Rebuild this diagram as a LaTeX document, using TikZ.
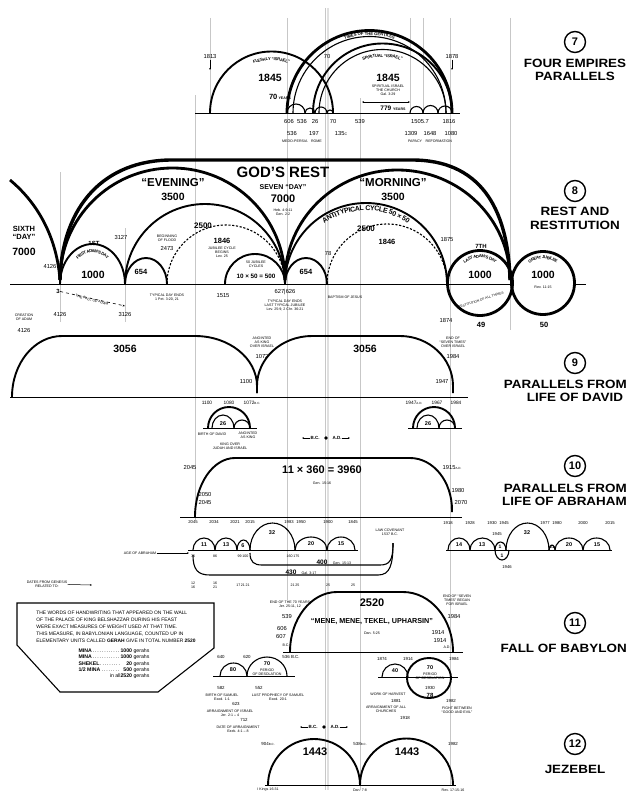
\documentclass[tikz,border=0pt]{standalone}
\usepackage{fontspec}
\setmainfont{Liberation Sans}
\usetikzlibrary{arrows.meta,decorations.text}
\newcommand\txsmall{\fontsize{4.2}{4.5}\selectfont\bfseries}
\newcommand\txmid{\fontsize{7}{7.5}\selectfont\bfseries}
\begin{document}
\begin{tikzpicture}[x=1pt,y=-1pt,
 vl/.style={black!22,line width=0.9pt},
 bl/.style={line width=0.9pt},
 a1/.style={line width=1.1pt},
 a2/.style={line width=1.9pt},
 a3/.style={line width=2.8pt},
 dsh/.style={line width=1.1pt,dash pattern=on 2.2pt off 1.6pt},
 tn/.style={font=\fontsize{3.6}{4}\selectfont,inner sep=0.3pt,align=center},
 sm/.style={font=\fontsize{5.8}{6.2}\selectfont,inner sep=0.3pt,align=center},
 md/.style={font=\bfseries\fontsize{7.5}{8}\selectfont,inner sep=0.3pt,align=center},
 bg/.style={font=\bfseries\fontsize{10.5}{11}\selectfont,inner sep=0.3pt,align=center},
 ttl/.style={font=\bfseries\fontsize{12}{13}\selectfont,inner sep=0pt,xscale=1.12,transform shape},
 circnum/.style={circle,draw,line width=1.4pt,minimum size=21pt,inner sep=0pt,font=\bfseries\fontsize{11}{11}\selectfont},
 tk/.style={line width=0.5pt,-{Stealth[length=2pt,width=1.6pt]}},
 dk/.style={line width=0.5pt,{Stealth[length=2pt,width=1.6pt]}-{Stealth[length=2pt,width=1.6pt]}},
]
\fill[white] (0,0) rectangle (629,792);
\useasboundingbox (0,0) rectangle (629,792);

% ---------- grey guide lines
\draw[vl] (60,172)--(60,322);
\draw[vl] (125,228)--(125,322);
\draw[vl] (195,95)--(195,520);
\draw[vl] (210,18)--(210,113);
\draw[vl] (287,18)--(287,600);
\draw[black!12,line width=2.5pt] (328,8)--(328,790);
\draw[vl] (325,8)--(325,790);
\draw[vl] (360,98)--(360,790);
\draw[vl] (410,18)--(410,113);
\draw[vl] (423,18)--(423,113);
\draw[vl] (450,18)--(450,785);
\draw[vl] (510,18)--(510,330);

% ================= SECTION 7
\draw[bl] (195,113)--(460,113);
\draw[a2] (210,113) arc[start angle=180,end angle=0,radius=61.5pt];
\draw[a3] (287,113) arc[start angle=180,end angle=0,radius=82.5pt];
\draw[a1] (293,113) arc[start angle=180,end angle=0,radius=76.5pt];
\draw[a2] (313,113) arc[start angle=180,end angle=0,radius=69.5pt];
\draw[a1] (319,113) arc[start angle=180,end angle=0,radius=63.5pt];
\path[decorate,decoration={text along path,text align=center,raise=-5pt,text={|\txsmall|FLESHLY “ISRAEL”}}] (214,113) arc[start angle=180,end angle=0,radius=57.5pt];
\path[decorate,decoration={text along path,text align=center,raise=-1.6pt,text={|\txsmall|TIMES OF THE GENTILES}}] (290,113) arc[start angle=180,end angle=0,radius=79.5pt];
\path[decorate,decoration={text along path,text align=center,raise=-4.6pt,text={|\txsmall|SPIRITUAL “ISRAEL”}}] (322,113) arc[start angle=180,end angle=0,radius=60.5pt];
\draw[a1] (287,113) arc[start angle=180,end angle=0,radius=9pt];
\draw[a1] (305,113) arc[start angle=180,end angle=0,radius=5pt];
\draw[a1] (315,113) arc[start angle=180,end angle=0,radius=6pt];
\draw[a1] (327,113) arc[start angle=180,end angle=0,radius=3pt];
\draw[a1] (410,113) arc[start angle=180,end angle=0,radius=6.5pt];
\draw[a1] (423,113) arc[start angle=180,end angle=0,radius=7.5pt];
\draw[a1] (438,113) arc[start angle=180,end angle=0,radius=7pt];
\node[sm] (s7a) at (210,57) {1813};
\node[sm] (s7b) at (327,57) {70};
\node[sm] (s7c) at (452,57) {1878};
\coordinate (s7a1) at (210,70);
\coordinate (s7c1) at (452,70);
\draw[tk] (s7a)--(s7a1);
\draw[tk] (s7c)--(s7c1);
\node[bg] (s7d) at (270,78) {1845};
\node[bg] (s7e) at (388,78) {1845};
\node[md] (s7f) at (280,97) {70\,{\fontsize{3.6}{4}\selectfont YEARS}};
\node[tn] (s7g) at (388,90) {SPIRITUAL ISRAEL\\THE CHURCH\\Gal. 3:29};
\coordinate (s7l) at (362,102);
\coordinate (s7r) at (410,102);
\draw[dk] (s7l)--(s7r);
\node[md,font=\bfseries\fontsize{6.5}{7}\selectfont] (s7h) at (393,108) {779 {\fontsize{3.6}{4}\selectfont YEARS}};
\node[sm] (s7i) at (289,122) {606};
\node[sm] (s7j) at (302,122) {536};
\node[sm] (s7k) at (315,122) {26};
\node[sm] (s7m) at (333,122) {70};
\node[sm] (s7n) at (360,122) {539};
\node[sm] (s7o) at (420,122) {1505.7};
\node[sm] (s7p) at (449,122) {1816};
\node[sm] (s7q) at (292,134) {536};
\node[sm] (s7r2) at (314,134) {197};
\node[sm] (s7s) at (341,134) {135{\fontsize{3.6}{4}\selectfont C}};
\node[sm] (s7t) at (411,134) {1309};
\node[sm] (s7u) at (430,134) {1648};
\node[sm] (s7v) at (451,134) {1080};
\node[tn] (s7w) at (302,141) {MEDO-PERSIA\quad ROME};
\node[tn] (s7x) at (430,141) {PAPACY\quad REFORMATION};

% ================= SECTION 8
\draw[bl] (10,284)--(512,284);
\draw[bl] (575,284)--(586,284);
\draw[a3] (10,180) .. controls (40,205) and (57,240) .. (60,280);
\draw[line width=3.4pt] (60,280) .. controls (62,205) and (105,160) .. (172,160) -- (412,160) .. controls (478,160) and (508,205) .. (510,280);
\draw[a3] (60,280) arc[start angle=180,end angle=0,x radius=112.5pt,y radius=112pt];
\draw[a3] (285,280) arc[start angle=180,end angle=0,x radius=112.5pt,y radius=110pt];
\draw[a2] (125,284) arc[start angle=180,end angle=0,radius=80pt];
\draw[a2] (285,284) arc[start angle=180,end angle=0,radius=81pt];
\draw[dsh] (167,284) arc[start angle=180,end angle=0,radius=59pt];
\draw[dsh] (327,284) arc[start angle=180,end angle=0,radius=60pt];
\draw[a2] (60,284) arc[start angle=180,end angle=0,x radius=32.5pt,y radius=40pt];
\draw[a2] (125,284) arc[start angle=180,end angle=0,x radius=21pt,y radius=26pt];
\draw[a2] (225,284) arc[start angle=180,end angle=0,radius=30pt];
\draw[a2] (285,284) arc[start angle=180,end angle=0,x radius=21pt,y radius=26pt];
\draw[a3] (480,283) circle[radius=32.5pt];
\draw[a3] (543,283) circle[radius=31.5pt];
\path[decorate,decoration={text along path,text align=center,raise=-4.5pt,text={|\txsmall|FIRST ADAM'S DAY}}] (64,284) arc[start angle=180,end angle=0,x radius=28.5pt,y radius=36pt];
\path[decorate,decoration={text along path,text align=center,raise=-7.5pt,text={|\txmid|ANTITYPICAL CYCLE 50 × 50}}] (285,284) arc[start angle=180,end angle=0,radius=81pt];
\path[decorate,decoration={text along path,text align=center,raise=-4.5pt,text={|\txsmall|LAST ADAM'S DAY}}] (450.5,283) arc[start angle=180,end angle=0,radius=29.5pt];
\path[decorate,decoration={text along path,text align=center,raise=-4.5pt,text={|\txsmall|GREAT JUBILEE}}] (514.5,283) arc[start angle=180,end angle=0,radius=28.5pt];
\node[md,font=\bfseries\fontsize{7.5}{8.5}\selectfont] (s8a) at (24,233) {SIXTH\\“DAY”};
\node[bg] (s8b) at (24,252) {7000};
\node[font=\bfseries\fontsize{15}{15}\selectfont,inner sep=0pt] (s8c) at (283,172) {GOD'S REST};
\node[md,font=\bfseries\fontsize{7}{7}\selectfont] (s8d) at (283,187) {SEVEN “DAY”};
\node[bg,font=\bfseries\fontsize{11}{11}\selectfont] (s8e) at (283,199) {7000};
\node[tn] (s8f) at (283,212) {Heb. 4:9-11\\Gen. 2:2};
\node[bg,font=\bfseries\fontsize{11.5}{12}\selectfont] (s8g) at (173,183) {“EVENING”};
\node[bg] (s8h) at (173,197) {3500};
\node[bg,font=\bfseries\fontsize{11.5}{12}\selectfont] (s8i) at (393,183) {“MORNING”};
\node[bg] (s8j) at (393,197) {3500};
\node[md,font=\bfseries\fontsize{8}{8}\selectfont] (s8k) at (203,226) {2500};
\node[md,font=\bfseries\fontsize{8}{8}\selectfont] (s8l) at (366,229) {2500};
\node[md] (s8m) at (222,241) {1846};
\node[md] (s8n) at (387,242) {1846};
\node[bg] (s8o) at (93,275) {1000};
\node[md,font=\bfseries\fontsize{6}{6}\selectfont] (s8p) at (94,243) {1ST};
\node[md] (s8q) at (141,272) {654};
\node[md] (s8r) at (306,272) {654};
\node[md,font=\bfseries\fontsize{6.3}{7}\selectfont] (s8s) at (256,276) {10 × 50 = 500};
\node[tn] (s8t) at (256,264) {50 JUBILEE\\CYCLES};
\node[tn] (s8t2) at (222,252) {JUBILEE CYCLE\\BEGINS\\Lev. 25};
\node[bg] (s8u) at (480,275) {1000};
\node[bg] (s8v) at (543,275) {1000};
\node[tn] (s8w) at (543,287) {Rev. 11:15};
\node[tn,font=\fontsize{3.3}{4}\selectfont,rotate=18] (s8x) at (481,300) {RESTITUTION OF ALL THINGS};
\node[md,font=\bfseries\fontsize{6}{6}\selectfont] (s8y) at (481,246) {7TH};
\node[md] (s8z) at (481,325) {49};
\node[md] (s8aa) at (544,325) {50};
\node[sm] (s8ab) at (447,240) {1875};
\node[sm] (s8ac) at (446,320) {1874};
\node[sm] (s8ad) at (328,254) {78};
\node[sm] (s8ae) at (121,238) {3127};
\node[sm] (s8af) at (50,267) {4126};
\node[tn] (s8ag) at (167,238) {BEGINNING\\OF FLOOD};
\node[sm] (s8ah) at (167,249) {2473};
\node[md,font=\bfseries\fontsize{6}{6}\selectfont] (s8ai) at (58,291) {3};
\node[sm] (s8aj) at (60,314) {4126};
\node[sm] (s8ak) at (125,314) {3126};
\coordinate (s8c1) at (125,306);
\draw[line width=0.6pt,dashed,-{Stealth[length=2.5pt]}] (s8ai)--(s8c1);
\node[tn,rotate=-15] (s8al) at (92,300) {THE FALL OF ADAM};
\node[tn] (s8am) at (167,297) {TYPICAL DAY ENDS\\1 Pet. 3:20, 21};
\node[sm] (s8an) at (223,296) {1515};
\node[sm] (s8ao) at (285,292) {627|626};
\node[tn] (s8ap) at (285,305) {TYPICAL DAY ENDS\\LAST TYPICAL JUBILEE\\Lev. 25:9; 2 Chr. 36:21};
\node[tn] (s8aq) at (345,297) {BAPTISM OF JESUS};

% ================= SECTION 9
\draw[bl] (10,397)--(468,397);
\draw[a2] (12,397) arc[start angle=180,end angle=90,x radius=50pt,y radius=61pt] -- (195,336) arc[start angle=90,end angle=0,x radius=62pt,y radius=50pt] -- (257,393);
\draw[a2] (257,393) -- (257,386) arc[start angle=180,end angle=90,x radius=55pt,y radius=50pt] -- (400,336) arc[start angle=90,end angle=0,x radius=53pt,y radius=50pt] -- (453,393);
\node[bg] (s9a) at (125,349) {3056};
\node[bg] (s9b) at (365,349) {3056};
\node[tn] (s9c) at (24,317) {CREATION\\OF ADAM};
\node[sm] (s9d) at (24,330) {4126};
\node[sm] (s9e) at (246,381) {1100};
\node[tn] (s9f) at (262,342) {ANOINTED\\AS KING\\OVER ISRAEL};
\node[sm] (s9g) at (262,356) {1072};
\node[sm] (s9h) at (442,381) {1947};
\node[tn] (s9i) at (453,342) {END OF\\“SEVEN TIMES”\\OVER ISRAEL};
\node[sm] (s9j) at (453,356) {1984};
% David small diagrams
\draw[bl] (203,428)--(257,428);
\draw[a2] (208,428) arc[start angle=180,end angle=0,radius=21pt];
\draw[a1] (212,428) arc[start angle=180,end angle=0,x radius=11pt,y radius=13pt];
\draw[a1] (234,428) arc[start angle=180,end angle=0,radius=8pt];
\node[md,font=\bfseries\fontsize{5.5}{6}\selectfont] (s9k) at (223,424) {26};
\node[sm,font=\fontsize{4.8}{5}\selectfont] (s9l) at (207,403) {1100};
\node[sm,font=\fontsize{4.8}{5}\selectfont] (s9m) at (229,403) {1080};
\node[sm,font=\fontsize{4.8}{5}\selectfont] (s9n) at (252,403) {1072{\fontsize{3}{3}\selectfont B.C.}};
\node[tn] (s9o) at (212,434) {BIRTH OF DAVID};
\node[tn] (s9p) at (248,435) {ANOINTED\\AS KING};
\node[tn] (s9q) at (230,446) {KING OVER\\JUDAH AND ISRAEL};
\draw[bl] (408,428)--(462,428);
\draw[a2] (413,428) arc[start angle=180,end angle=0,radius=21pt];
\draw[a1] (417,428) arc[start angle=180,end angle=0,x radius=11pt,y radius=13pt];
\draw[a1] (439,428) arc[start angle=180,end angle=0,radius=8pt];
\node[md,font=\bfseries\fontsize{5.5}{6}\selectfont] (s9r) at (428,424) {26};
\node[sm,font=\fontsize{4.8}{5}\selectfont] (s9s) at (414,403) {1947{\fontsize{3}{3}\selectfont A.D.}};
\node[sm,font=\fontsize{4.8}{5}\selectfont] (s9t) at (437,403) {1967};
\node[sm,font=\fontsize{4.8}{5}\selectfont] (s9u) at (456,403) {1984};
% B.C. / A.D.
\node[tn,font=\bfseries\fontsize{4.5}{5}\selectfont] (bc1) at (315,438) {B.C.};
\node[tn,font=\bfseries\fontsize{4.5}{5}\selectfont] (ad1) at (337,438) {A.D.};
\node[circle,fill,inner sep=1.4pt] (dot1) at (326,438) {};
\coordinate (bc1e) at (302,438);
\coordinate (ad1e) at (350,438);
\draw[tk] (bc1)--(bc1e);
\draw[tk] (ad1)--(ad1e);

% ================= SECTION 10
\draw[bl] (180,517)--(462,517);
\draw[a2] (195,517) arc[start angle=180,end angle=90,x radius=40pt,y radius=59pt] -- (410,458) arc[start angle=90,end angle=0,x radius=42pt,y radius=52pt] -- (452,512);
\node[bg,font=\bfseries\fontsize{11}{11}\selectfont] (s10a) at (322,470) {11 × 360 = 3960};
\node[tn] (s10b) at (322,483) {Gen. 15:16};
\node[sm] (s10c) at (190,467) {2045};
\node[sm] (s10d) at (452,467) {1915{\fontsize{3}{3}\selectfont A.D.}};
\node[sm] (s10e) at (205,494) {2050};
\node[sm] (s10f) at (205,502) {2045};
\node[sm] (s10g) at (458,490) {1980};
\node[sm] (s10h) at (461,502) {2070};
\draw[bl] (188,550)--(358,550);
\draw[a1] (193,550) arc[start angle=180,end angle=0,x radius=11pt,y radius=12pt];
\draw[a1] (215,550) arc[start angle=180,end angle=0,x radius=11pt,y radius=12pt];
\draw[a1] (237,550) arc[start angle=180,end angle=0,x radius=6.5pt,y radius=10pt];
\draw[a1] (250,550) arc[start angle=180,end angle=0,x radius=22.5pt,y radius=27pt];
\draw[a1] (295,550) arc[start angle=180,end angle=0,x radius=16pt,y radius=13pt];
\draw[a1] (327,550) arc[start angle=180,end angle=0,x radius=14pt,y radius=13pt];
\node[md,font=\bfseries\fontsize{5.5}{6}\selectfont] (s10i) at (204,545) {11};
\node[md,font=\bfseries\fontsize{5.5}{6}\selectfont] (s10j) at (226,545) {13};
\node[md,font=\bfseries\fontsize{5.5}{6}\selectfont] (s10k) at (243,546) {6};
\node[md,font=\bfseries\fontsize{5.5}{6}\selectfont] (s10l) at (272,533) {32};
\node[md,font=\bfseries\fontsize{5.5}{6}\selectfont] (s10m) at (311,544) {20};
\node[md,font=\bfseries\fontsize{5.5}{6}\selectfont] (s10n) at (341,544) {15};
\node[tn,font=\fontsize{4.2}{4.5}\selectfont] (s10o) at (193,522) {2045};
\node[tn,font=\fontsize{4.2}{4.5}\selectfont] (s10p) at (214,522) {2034};
\node[tn,font=\fontsize{4.2}{4.5}\selectfont] (s10q) at (235,522) {2021};
\node[tn,font=\fontsize{4.2}{4.5}\selectfont] (s10r) at (250,522) {2015};
\node[tn,font=\fontsize{4.2}{4.5}\selectfont] (s10s) at (289,522) {1983};
\node[tn,font=\fontsize{4.2}{4.5}\selectfont] (s10t) at (301,522) {1950};
\node[tn,font=\fontsize{4.2}{4.5}\selectfont] (s10u) at (328,522) {1900};
\node[tn,font=\fontsize{4.2}{4.5}\selectfont] (s10v) at (353,522) {1845};
\node[tn] (s10w) at (140,553) {AGE OF ABRAHAM};
\coordinate (s10we) at (189,553);
\draw[tk] (s10w)--(s10we);
\node[tn] (s10x) at (193,556) {75};
\node[tn] (s10y) at (215,556) {86};
\node[tn] (s10z) at (243,556) {99\,100};
\node[tn] (s10aa) at (293,556) {160\,175};
\draw[a1] (250,553) .. controls (250,562) and (254,565) .. (262,565) -- (380,565) .. controls (390,565) and (393,560) .. (393,543);
\draw[a1] (193,555) .. controls (193,570) and (198,575) .. (210,575) -- (378,575) .. controls (390,575) and (393,565) .. (393,543);
\node[md,font=\bfseries\fontsize{6.5}{7}\selectfont] (s10ab) at (322,562) {400};
\node[tn] (s10ac) at (342,563) {Gen. 15:13};
\node[md,font=\bfseries\fontsize{6.5}{7}\selectfont] (s10ad) at (291,572) {430};
\node[tn] (s10ae) at (309,573) {Gal. 3:17};
\node[tn] (s10af) at (390,532) {LAW COVENANT\\1537 B.C.};
\node[tn] (s10ag) at (47,584) {DATES FROM GENESIS\\RELATED TO:};
\coordinate (s10ah) at (92,585);
\draw[tk] (s10ag)--(s10ah);
\node[tn] (s10ai) at (193,585) {12\\16};
\node[tn] (s10aj) at (215,585) {16\\21};
\node[tn] (s10ak) at (243,585) {17\,21\,21};
\node[tn] (s10al) at (295,585) {21\,25};
\node[tn] (s10am) at (328,585) {25};
\node[tn] (s10an) at (353,585) {25};
% right row
\draw[bl] (446,550)--(612,550);
\draw[a1] (448,550) arc[start angle=180,end angle=0,x radius=11pt,y radius=12pt];
\draw[a1] (470,550) arc[start angle=180,end angle=0,x radius=12.5pt,y radius=12pt];
\draw[a1] (495,550) arc[start angle=180,end angle=0,x radius=5.5pt,y radius=8pt];
\draw[a1] (495,550) arc[start angle=180,end angle=360,x radius=7pt,y radius=10pt];
\draw[a1] (506,550) arc[start angle=180,end angle=0,x radius=21.5pt,y radius=27pt];
\draw[a1] (549,550) arc[start angle=180,end angle=0,x radius=3pt,y radius=5pt];
\draw[a1] (555,550) arc[start angle=180,end angle=0,x radius=14pt,y radius=12pt];
\draw[a1] (583,550) arc[start angle=180,end angle=0,x radius=13.5pt,y radius=12pt];
\node[md,font=\bfseries\fontsize{5.5}{6}\selectfont] (r10a) at (459,545) {14};
\node[md,font=\bfseries\fontsize{5.5}{6}\selectfont] (r10b) at (482,545) {13};
\node[md,font=\bfseries\fontsize{5}{6}\selectfont] (r10c) at (500,547) {1};
\node[md,font=\bfseries\fontsize{5}{6}\selectfont] (r10c2) at (502,556) {1};
\node[md,font=\bfseries\fontsize{5.5}{6}\selectfont] (r10d) at (527,533) {32};
\node[md,font=\bfseries\fontsize{4.5}{6}\selectfont] (r10e) at (552,547) {21};
\node[md,font=\bfseries\fontsize{5.5}{6}\selectfont] (r10f) at (569,545) {20};
\node[md,font=\bfseries\fontsize{5.5}{6}\selectfont] (r10g) at (597,545) {15};
\node[tn,font=\fontsize{4.2}{4.5}\selectfont] (r10h) at (448,523) {1918};
\node[tn,font=\fontsize{4.2}{4.5}\selectfont] (r10i) at (470,523) {1928};
\node[tn,font=\fontsize{4.2}{4.5}\selectfont] (r10j) at (492,523) {1930};
\node[tn,font=\fontsize{4.2}{4.5}\selectfont] (r10k) at (504,523) {1945};
\node[tn,font=\fontsize{4.2}{4.5}\selectfont] (r10k2) at (497,534) {1945};
\node[tn,font=\fontsize{4.2}{4.5}\selectfont] (r10l) at (545,523) {1977};
\node[tn,font=\fontsize{4.2}{4.5}\selectfont] (r10m) at (557,523) {1980};
\node[tn,font=\fontsize{4.2}{4.5}\selectfont] (r10n) at (583,523) {2000};
\node[tn,font=\fontsize{4.2}{4.5}\selectfont] (r10o) at (610,523) {2015};
\node[tn,font=\fontsize{4.2}{4.5}\selectfont] (r10p) at (507,567) {1946};

% ================= SECTION 11
\draw[a1] (17,603) -- (214,603) -- (214,648) -- (158,692) -- (60,692) -- (17,645) -- cycle;
\node[font=\fontsize{4.9}{7}\selectfont,align=left,inner sep=0pt] (box1) at (116,627) {THE WORDS OF HANDWRITING THAT APPEARED ON THE WALL\\OF THE PALACE OF KING BELSHAZZAR DURING HIS FEAST\\WERE EXACT MEASURES OF WEIGHT USED AT THAT TIME.\\THIS MEASURE, IN BABYLONIAN LANGUAGE, COUNTED UP IN\\ELEMENTARY UNITS CALLED \textbf{GERAH} GIVE IN TOTAL NUMBER \textbf{2520}};
\node[inner sep=0pt] (box2) at (114,664) {\fontsize{5.2}{6.3}\selectfont\begin{tabular}{@{}p{42pt}@{}r@{\ }l@{}}
\textbf{MINA}\dotfill & \textbf{1000} & gerahs\\
\textbf{MINA}\dotfill & \textbf{1000} & gerahs\\
\textbf{SHEKEL}\dotfill & \textbf{20} & gerahs\\
\textbf{1/2 MINA}\dotfill & \textbf{500} & gerahs\\
\hfill in all\  & \textbf{2520} & gerahs
\end{tabular}};
\draw[bl] (283,652)--(463,652);
\draw[a2] (290,652) arc[start angle=180,end angle=90,x radius=47pt,y radius=60pt] -- (403,592) arc[start angle=90,end angle=0,x radius=50pt,y radius=60pt];
\node[bg,font=\bfseries\fontsize{11}{11}\selectfont] (s11a) at (372,603) {2520};
\node[md,font=\bfseries\fontsize{7.2}{8}\selectfont] (s11b) at (372,622) {“MENE, MENE, TEKEL, UPHARSIN”};
\node[tn] (s11c) at (372,633) {Dan. 5:25};
\node[tn] (s11d) at (290,604) {END OF THE 70 YEARS\\Jer. 25:11, 12};
\node[sm] (s11e) at (287,616) {539};
\node[sm] (s11f) at (282,628) {606};
\node[sm] (s11g) at (281,636) {607};
\node[tn] (s11h) at (286,645) {B.C.};
\node[tn] (s11i) at (457,600) {END OF “SEVEN\\TIMES” BEGAN\\FOR ISRAEL};
\node[sm] (s11j) at (454,616) {1984};
\node[sm] (s11k) at (438,632) {1914};
\node[sm] (s11l) at (440,640) {1914};
\node[tn] (s11m) at (447,647) {A.D.};
% left sub
\draw[bl] (213,676)--(295,676);
\draw[a1] (220,676) arc[start angle=180,end angle=0,x radius=13.5pt,y radius=13pt];
\draw[a1] (247,676) arc[start angle=180,end angle=0,x radius=20pt,y radius=19pt];
\node[md,font=\bfseries\fontsize{5.5}{6}\selectfont] (s11n) at (233,670) {80};
\node[md,font=\bfseries\fontsize{5.5}{6}\selectfont] (s11o) at (267,664) {70};
\node[tn] (s11p) at (267,672) {PERIOD\\OF DESOLATION};
\node[tn,font=\fontsize{4.4}{5}\selectfont] (s11q) at (221,657) {640};
\node[tn,font=\fontsize{4.4}{5}\selectfont] (s11r) at (247,657) {620};
\node[tn,font=\fontsize{4.4}{5}\selectfont] (s11s) at (291,657) {536 B.C.};
\node[tn,font=\fontsize{4.4}{5}\selectfont] (s11t) at (221,688) {582};
\node[tn,font=\fontsize{4.4}{5}\selectfont] (s11u) at (259,688) {552};
\node[tn] (s11v) at (222,697) {BIRTH OF SAMUEL\\Exod. 1:1};
\node[tn] (s11w) at (278,697) {LAST PROPHECY OF SAMUEL\\Exod. 20:1};
\node[tn,font=\fontsize{4.4}{5}\selectfont] (s11x) at (236,704) {623};
\node[tn] (s11y) at (230,713) {ARRAIGNMENT OF ISRAEL\\Jer. 2:1 -- 4};
\node[tn,font=\fontsize{4.4}{5}\selectfont] (s11z) at (244,720) {712};
\node[tn] (s11aa) at (238,729) {DATE OF ARRAIGNMENT\\Ezek. 4:1 -- 8};
% right sub
\draw[bl] (378,677)--(458,677);
\draw[a1] (382,677) arc[start angle=180,end angle=0,x radius=13pt,y radius=13pt];
\draw[a2] (429,678) ellipse[x radius=22pt,y radius=20pt];
\node[md,font=\bfseries\fontsize{5.5}{6}\selectfont] (s11ab) at (395,671) {40};
\node[md,font=\bfseries\fontsize{5.5}{6}\selectfont] (s11ac) at (430,668) {70};
\node[tn] (s11ad) at (430,676) {PERIOD\\OF DESOLATION};
\node[tn,font=\fontsize{4.4}{5}\selectfont] (s11ae) at (430,688) {1930};
\node[md,font=\bfseries\fontsize{6}{6}\selectfont] (s11af) at (430,695) {78};
\node[tn,font=\fontsize{4.4}{5}\selectfont] (s11ag) at (382,659) {1874};
\node[tn,font=\fontsize{4.4}{5}\selectfont] (s11ah) at (408,659) {1914};
\node[tn,font=\fontsize{4.4}{5}\selectfont] (s11ai) at (454,659) {1984};
\node[tn] (s11aj) at (388,694) {WORK OF HARVEST};
\node[tn,font=\fontsize{4.4}{5}\selectfont] (s11ak) at (396,701) {1881};
\node[tn] (s11al) at (386,709) {ARRAIGNMENT OF ALL\\CHURCHES};
\node[tn,font=\fontsize{4.4}{5}\selectfont] (s11am) at (405,718) {1918};
\node[tn,font=\fontsize{4.4}{5}\selectfont] (s11an) at (451,701) {1982};
\node[tn] (s11ao) at (457,710) {FIGHT BETWEEN\\“GOOD AND EVIL”};

% ================= SECTION 12
\draw[bl] (265,785)--(456,785);
\draw[a2] (268,785) arc[start angle=180,end angle=0,radius=46pt];
\draw[a2] (360,785) arc[start angle=180,end angle=0,radius=46.5pt];
\node[bg,font=\bfseries\fontsize{11}{11}\selectfont] (s12a) at (315,752) {1443};
\node[bg,font=\bfseries\fontsize{11}{11}\selectfont] (s12b) at (407,752) {1443};
\node[tn,font=\fontsize{4.4}{5}\selectfont] (s12c) at (268,744) {904{\fontsize{3}{3}\selectfont B.C.}};
\node[tn,font=\fontsize{4.4}{5}\selectfont] (s12d) at (360,744) {538{\fontsize{3}{3}\selectfont B.C.}};
\node[tn,font=\fontsize{4.4}{5}\selectfont] (s12e) at (453,744) {1982};
\node[tn] (s12f) at (268,790) {I Kings 16:31};
\node[tn] (s12g) at (360,790) {Dan. 7:8};
\node[tn] (s12h) at (453,790) {Rev. 17:15-16};
\node[tn,font=\bfseries\fontsize{4.5}{5}\selectfont] (bc2) at (313,727) {B.C.};
\node[tn,font=\bfseries\fontsize{4.5}{5}\selectfont] (ad2) at (335,727) {A.D.};
\node[circle,fill,inner sep=1.4pt] (dot2) at (324,727) {};
\coordinate (bc2e) at (300,727);
\coordinate (ad2e) at (348,727);
\draw[tk] (bc2)--(bc2e);
\draw[tk] (ad2)--(ad2e);

% ================= TITLES
\node[circnum] (c7) at (575,42) {7};
\node[ttl] (t7a) at (575,63) {FOUR EMPIRES};
\node[ttl] (t7b) at (575,76) {PARALLELS};
\node[circnum] (c8) at (575,191) {8};
\node[ttl] (t8a) at (575,211) {REST AND};
\node[ttl] (t8b) at (575,225) {RESTITUTION};
\node[circnum] (c9) at (575,363) {9};
\node[ttl,anchor=east] (t9a) at (627,384) {PARALLELS FROM};
\node[ttl] (t9b) at (575,397) {LIFE OF DAVID};
\node[circnum] (c10) at (575,466) {10};
\node[ttl,anchor=east] (t10a) at (627,488) {PARALLELS FROM};
\node[ttl,anchor=east] (t10b) at (627,501) {LIFE OF ABRAHAM};
\node[circnum] (c11) at (575,623) {11};
\node[ttl,anchor=east] (t11a) at (627,648) {FALL OF BABYLON};
\node[circnum] (c12) at (575,744) {12};
\node[ttl] (t12a) at (575,769) {JEZEBEL};
\end{tikzpicture}
\end{document}
